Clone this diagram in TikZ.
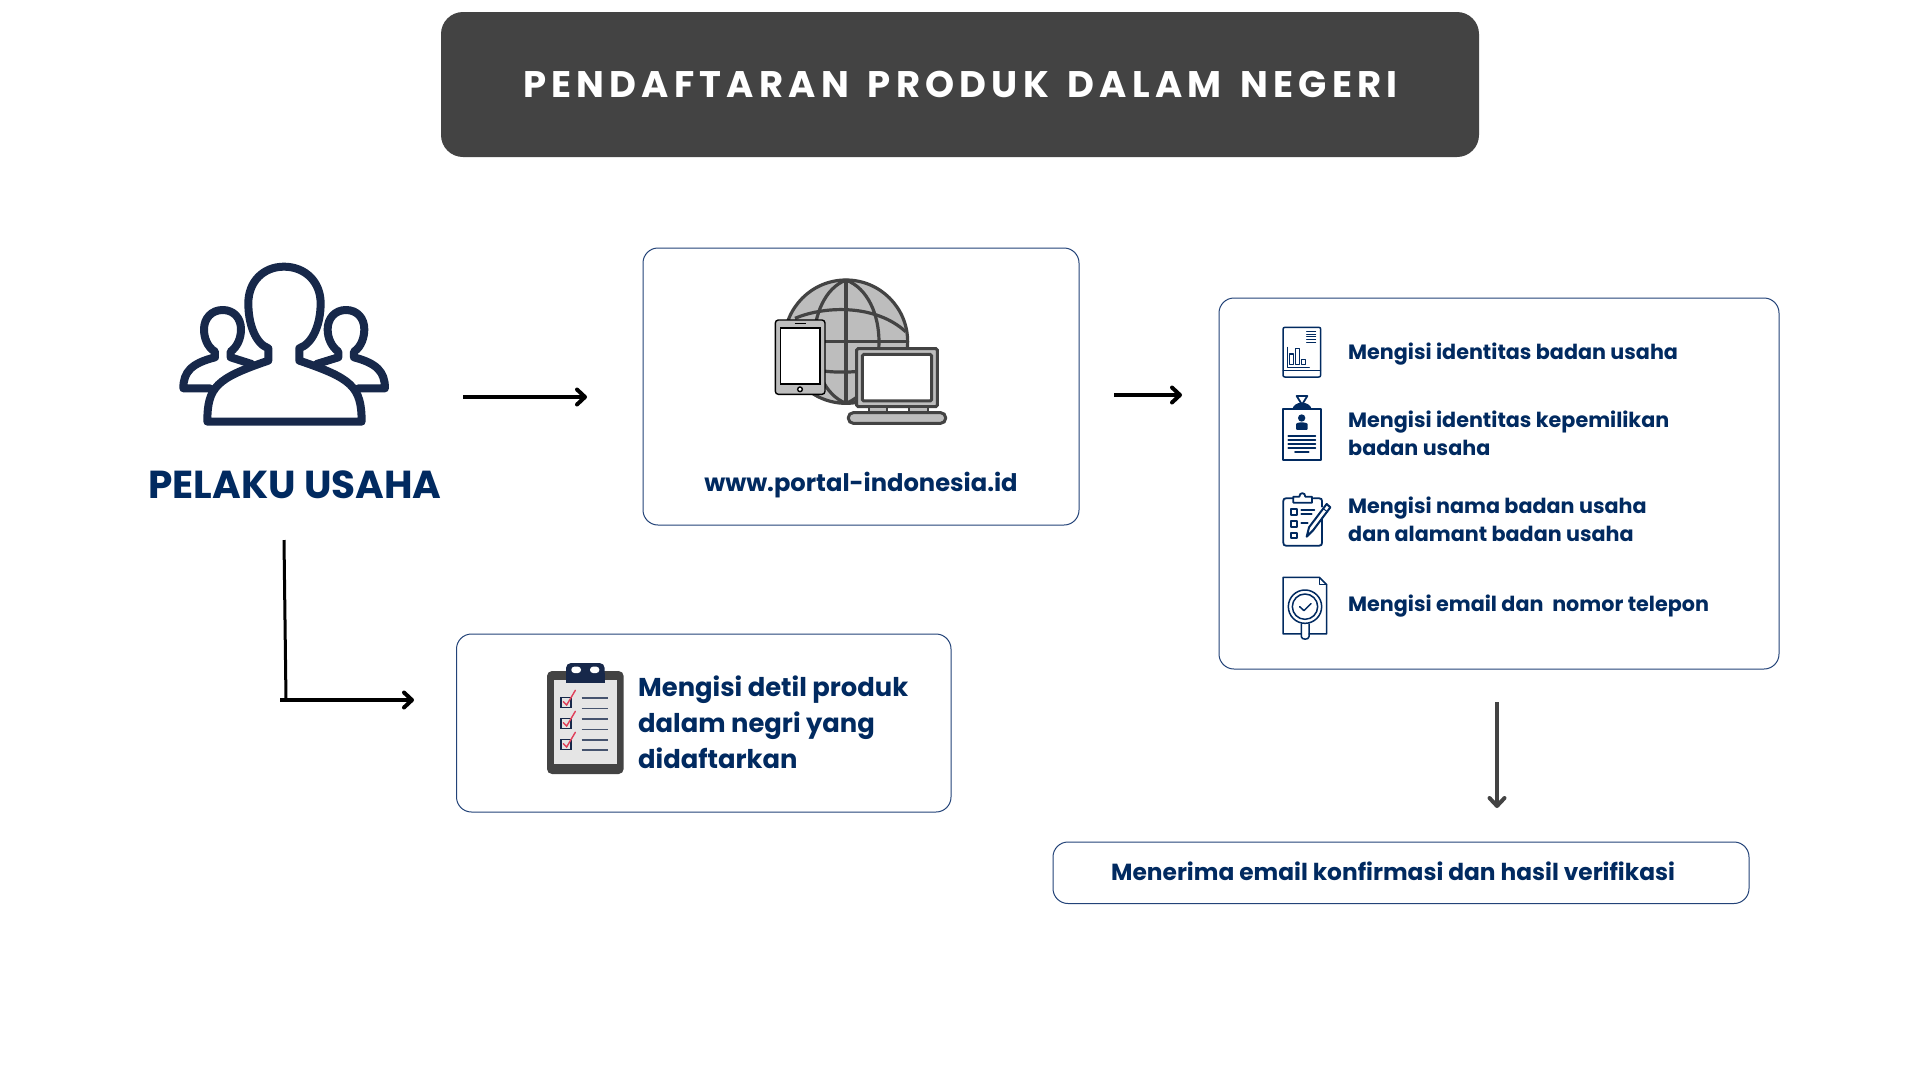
\documentclass[tikz,border=0pt]{standalone}
\usepackage{fontspec}
\setmainfont{Poppins}
\usetikzlibrary{arrows.meta}
\definecolor{navy}{HTML}{012A60}
\definecolor{icon}{HTML}{17284A}
\definecolor{dark}{HTML}{434343}
\definecolor{midgray}{HTML}{BDBDBD}
\definecolor{boxline}{HTML}{234378}
\definecolor{tick}{HTML}{E0405A}
\tikzset{
  panel/.style={draw=boxline,line width=1pt,rounded corners=15pt,fill=white},
  flow/.style={line width=4pt,-{Straight Barb[length=8pt,width=15pt,line width=4pt,round]}},
  lbl/.style={inner sep=0pt,anchor=base west,text=navy,font=\fontsize{20.7}{28}\selectfont\bfseries,align=left},
  ic/.style={draw=navy,line width=1.5pt,line join=round,line cap=round},
  zoomed/.style={shift={#1},x=0.3333pt,y=-0.3333pt}
}
\begin{document}
\begin{tikzpicture}[x=1pt,y=-1pt]
\useasboundingbox (0,0) rectangle (1920,1080);
\fill[white] (0,0) rectangle (1920,1080);
% title
\node[fill=dark,rounded corners=22pt,minimum width=1038pt,minimum height=145pt,inner sep=0pt] (title) at (960,84.5) {};
\node[text=white,inner sep=0pt,font=\fontsize{37}{40}\selectfont\bfseries\addfontfeature{LetterSpace=14}] (titletext) at (960.5,84) {PENDAFTARAN\hspace{6pt} PRODUK\hspace{6pt} DALAM\hspace{6pt} NEGERI};
% panels
\draw[panel] (643,248) rectangle (1079,525);
\draw[panel] (1219,298) rectangle (1779,669);
\draw[panel] (456.5,634) rectangle (951,812);
\draw[panel] (1053,842) rectangle (1749,903.5);
% people icon
\begin{scope}[zoomed={(160,240)},draw=icon,line width=8pt,line join=round,line cap=round]
\draw (150,445) -- (70,445) .. controls (70,395) and (95,370) .. (165,352) -- (165,335) .. controls (140,320) and (132,290) .. (132,268) .. controls (132,235) and (155,210) .. (188,210) .. controls (222,210) and (243,235) .. (243,268) .. controls (243,295) and (232,320) .. (212,335) -- (212,352) -- (275,372);
\draw (470,372) -- (535,352) -- (535,335) .. controls (515,320) and (503,295) .. (503,268) .. controls (503,235) and (525,210) .. (558,210) .. controls (592,210) and (613,235) .. (613,268) .. controls (613,290) and (605,320) .. (582,335) -- (582,352) .. controls (650,370) and (675,395) .. (675,445) -- (595,445);
\draw (142,545) .. controls (142,440) and (170,415) .. (325,362) -- (325,325) .. controls (285,310) and (265,250) .. (265,190) .. controls (265,125) and (310,80) .. (372,80) .. controls (435,80) and (482,125) .. (482,190) .. controls (482,250) and (460,310) .. (418,325) -- (418,362) .. controls (575,415) and (605,440) .. (605,545) -- cycle;
\end{scope}
\node[inner sep=0pt,text=navy,font=\fontsize{39}{44}\selectfont\bfseries] (pelaku) at (295,484.5) {PELAKU USAHA};
% devices icon
\begin{scope}[zoomed={(740,260)},draw=dark]
\begin{scope}[line width=3.2pt,draw=dark]
\fill[midgray] (318,245) circle [radius=185];
\draw (318,245) circle [radius=185];
\draw (318,60) -- (318,430);
\draw (133,245) -- (503,245);
\draw (318,60) .. controls (190,110) and (190,380) .. (318,430);
\draw (318,60) .. controls (450,110) and (450,380) .. (318,430);
\draw (165,175) .. controls (260,135) and (410,135) .. (497,215);
\draw (180,318) .. controls (260,345) and (380,342) .. (470,310);
\end{scope}
\filldraw[fill=midgray,draw=black,line width=1.4pt,rounded corners=3pt] (106,180) rectangle (255,403);
\filldraw[fill=white,draw=black,line width=1.4pt] (122,204) rectangle (240,372);
\draw[black,line width=1.4pt] (164,191) -- (197,191);
\filldraw[fill=white,draw=black,line width=1.4pt] (180,388) circle [radius=7];
\filldraw[fill=midgray,draw=dark,line width=3pt,rounded corners=1.5pt] (350,266) rectangle (592,440);
\filldraw[fill=white,draw=dark,line width=3pt,rounded corners=1.5pt] (367,283) rectangle (575,423);
\filldraw[fill=midgray,draw=dark,line width=2pt] (388,440) rectangle (442,456);
\filldraw[fill=midgray,draw=dark,line width=2pt] (508,440) rectangle (565,456);
\filldraw[fill=midgray,draw=dark,line width=3pt,rounded corners=5pt] (325,458) rectangle (617,490);
\end{scope}
\node[lbl,anchor=base,font=\fontsize{24.2}{30}\selectfont\bfseries] (portal) at (861,491) {www.portal-indonesia.id};
% icon 1 report
\begin{scope}[zoomed={(1260,310)}]
\draw[ic] (75,52) -- (176,52) .. controls (181,52) and (182,54) .. (182,58) -- (182,195) .. controls (182,200) and (180,201) .. (176,201) -- (75,201) .. controls (71,201) and (69,199) .. (69,195) -- (69,58) .. controls (69,54) and (71,52) .. (75,52);
\draw[ic,line width=1pt] (69,181) -- (182,181);
\draw[ic,line width=1pt] (140,64) -- (167,64) (140,72) -- (167,72) (140,80) -- (167,80) (140,88) -- (167,88) (140,96) -- (167,96);
\draw[ic,line width=1pt] (82,112) -- (82,171) -- (148,171);
\draw[ic] (89,132) rectangle (101,163) (107,116) rectangle (119,163) (125,148) rectangle (136,163);
\end{scope}
% icon 2 badge
\begin{scope}[zoomed={(1260,310)}]
\fill[navy] (97,297) .. controls (100,285) and (112,278) .. (125,278) .. controls (140,278) and (152,285) .. (155,297) -- cycle;
\draw[ic,line width=1.8pt] (110,258) -- (142,258) -- (126,284) -- cycle;
\draw[ic,line width=1.8pt] (69,297) rectangle (182,449);
\fill[navy] (125,324) circle [radius=11];
\fill[navy,rounded corners=1pt] (108,360) -- (108,345) .. controls (108,340) and (115,337) .. (125,337) .. controls (135,337) and (143,340) .. (143,345) -- (143,360) -- cycle;
\draw[ic,line width=1.8pt] (85,377) -- (166,377) (85,390) -- (166,390) (85,403) -- (166,403) (85,415) -- (166,415) (105,427) -- (146,427);
\end{scope}
% icon 3 clipboard
\begin{scope}[zoomed={(1260,480)}]
\draw[ic,line width=1.8pt] (100,55) -- (78,55) .. controls (72,55) and (70,58) .. (70,63) -- (70,188) .. controls (70,194) and (72,197) .. (78,197) -- (178,197) .. controls (184,197) and (186,194) .. (186,188) -- (186,115);
\draw[ic,line width=1.8pt] (160,55) -- (178,55) .. controls (184,55) and (186,58) .. (186,63) -- (186,80);
\draw[ic,line width=1.8pt] (100,68) -- (100,50) -- (118,50) .. controls (118,36) and (136,36) .. (136,50) -- (156,50) -- (156,68) -- cycle;
\draw[ic,line width=1.8pt] (92,88) rectangle (110,105) (92,123) rectangle (110,140) (92,158) rectangle (110,175);
\draw[ic,line width=1.8pt] (124,90) -- (163,90) (124,103) -- (155,103) (124,130) -- (143,130);
\draw[ic,line width=2pt] (200,72) -- (211,82) -- (160,150) -- (140,170) -- (147,142) -- cycle;
\draw[ic,line width=1pt] (190,86) -- (203,96);
\end{scope}
% icon 4 doc
\begin{scope}[zoomed={(1260,480)}]
\draw[ic] (124,462) -- (69,462) -- (69,292) -- (178,292) -- (200,314) -- (200,462) -- (147,462);
\draw[ic,line width=1pt] (178,292) -- (178,314) -- (200,314);
\draw[ic] (135,380) circle [radius=50];
\draw[ic] (135,380) circle [radius=38];
\draw[ic] (124,432) -- (124,470) .. controls (124,480) and (147,480) .. (147,470) -- (147,432);
\draw[ic] (119,380) -- (132,392) -- (153,371);
\end{scope}
% right labels
\node[lbl] (t1) at (1348,359) {Mengisi identitas badan usaha};
\node[lbl,anchor=west] (t2) at (1348,433.5) {Mengisi identitas kepemilikan\\badan usaha};
\node[lbl,anchor=west] (t3) at (1348,519.5) {Mengisi nama badan usaha\\dan alamant badan usaha};
\node[lbl] (t4) at (1348,611) {Mengisi email dan~ nomor telepon};
% checklist icon
\begin{scope}[zoomed={(530,650)}]
\fill[dark,rounded corners=5pt] (51,63) rectangle (281,372);
\fill[black!10] (72,91) rectangle (260,343);
\fill[icon,rounded corners=5pt] (108,39) rectangle (224,90);
\fill[icon] (108,70) rectangle (224,100);
\fill[white,rounded corners=3pt] (124,50) rectangle (153,69) (180,50) rectangle (208,69);
\foreach \yy in {143,206,269}{
  \draw[icon,line width=1.6pt] (93,\yy) rectangle ++(30,30);
  \draw[tick,line width=1.4pt,line cap=round] (100,\yy+12) -- (110,\yy+22) -- (136,\yy-22);
}
\draw[icon!80,line width=1.3pt] (155,144) -- (233,144) (155,175) -- (233,175) (155,207) -- (233,207) (155,238) -- (233,238) (155,270) -- (233,270) (155,300) -- (233,300);
\end{scope}
\node[lbl,font=\fontsize{25.8}{36}\selectfont\bfseries,anchor=west] (detil) at (638,722.5) {Mengisi detil produk\\dalam negri yang\\didaftarkan};
\node[lbl,font=\fontsize{23.3}{30}\selectfont\bfseries] (confirm) at (1111,880) {Menerima email konfirmasi dan hasil verifikasi};
% connectors
\coordinate (a1s) at (463,397);
\coordinate (a1e) at (587,397);
\coordinate (a2s) at (1114,395);
\coordinate (a2e) at (1182,395);
\coordinate (a3s) at (1497,702);
\coordinate (a3e) at (1497,808);
\coordinate (a4s) at (284,540);
\coordinate (a4m) at (286,700);
\coordinate (a4b) at (280,700);
\coordinate (a4e) at (414,700);
\draw[flow] (a1s) -- (a1e);
\draw[flow] (a2s) -- (a2e);
\draw[flow,dark] (a3s) -- (a3e);
\draw[line width=3pt] (a4s) -- (a4m);
\draw[flow] (a4b) -- (a4e);
\end{tikzpicture}
\end{document}
